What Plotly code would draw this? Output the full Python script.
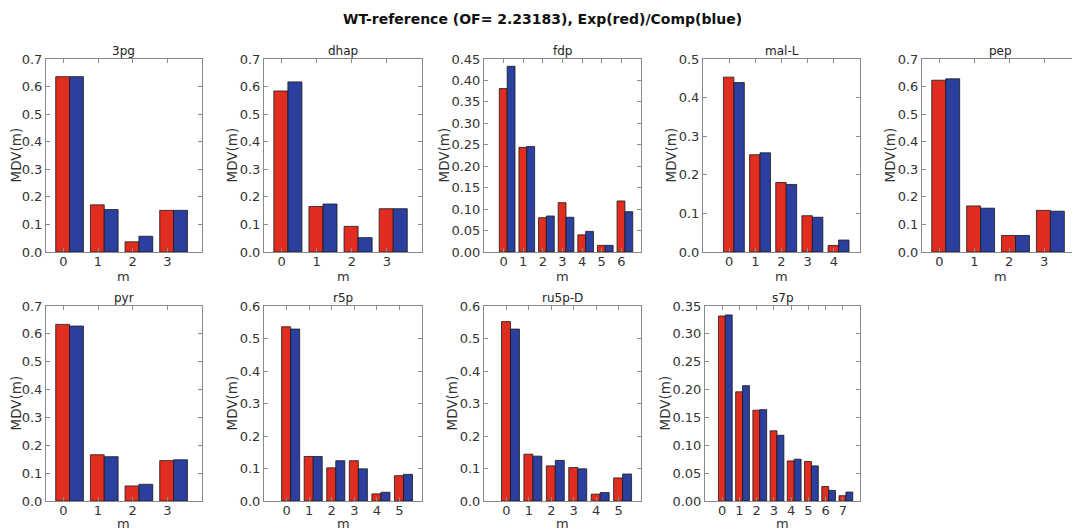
import plotly.graph_objects as go

# ---- data ----
names = ["3pg", "dhap", "fdp", "mal-L", "pep", "pyr", "r5p", "ru5p-D", "s7p"]

m_3pg = [0, 1, 2, 3]
exp_3pg = [0.636, 0.171, 0.037, 0.151]
comp_3pg = [0.636, 0.154, 0.057, 0.151]

m_dhap = [0, 1, 2, 3]
exp_dhap = [0.584, 0.165, 0.093, 0.157]
comp_dhap = [0.617, 0.174, 0.052, 0.157]

m_fdp = [0, 1, 2, 3, 4, 5, 6]
exp_fdp = [0.381, 0.244, 0.080, 0.115, 0.040, 0.0155, 0.119]
comp_fdp = [0.433, 0.246, 0.084, 0.081, 0.048, 0.0155, 0.094]

m_mal = [0, 1, 2, 3, 4]
exp_mal = [0.453, 0.252, 0.180, 0.094, 0.017]
comp_mal = [0.439, 0.257, 0.175, 0.090, 0.031]

m_pep = [0, 1, 2, 3]
exp_pep = [0.623, 0.167, 0.060, 0.151]
comp_pep = [0.628, 0.159, 0.060, 0.148]

m_pyr = [0, 1, 2, 3]
exp_pyr = [0.634, 0.166, 0.054, 0.145]
comp_pyr = [0.628, 0.159, 0.060, 0.148]

m_r5p = [0, 1, 2, 3, 4, 5]
exp_r5p = [0.536, 0.137, 0.102, 0.124, 0.022, 0.078]
comp_r5p = [0.529, 0.137, 0.124, 0.099, 0.027, 0.082]

m_ru5p = [0, 1, 2, 3, 4, 5]
exp_ru5p = [0.552, 0.144, 0.108, 0.103, 0.021, 0.071]
comp_ru5p = [0.529, 0.138, 0.125, 0.099, 0.026, 0.083]

m_s7p = [0, 1, 2, 3, 4, 5, 6, 7]
exp_s7p = [0.332, 0.196, 0.163, 0.126, 0.072, 0.071, 0.026, 0.0095]
comp_s7p = [0.334, 0.207, 0.164, 0.118, 0.075, 0.063, 0.019, 0.016]

ms = [m_3pg, m_dhap, m_fdp, m_mal, m_pep, m_pyr, m_r5p, m_ru5p, m_s7p]
exps = [exp_3pg, exp_dhap, exp_fdp, exp_mal, exp_pep, exp_pyr, exp_r5p, exp_ru5p, exp_s7p]
comps = [comp_3pg, comp_dhap, comp_fdp, comp_mal, comp_pep, comp_pyr, comp_r5p, comp_ru5p, comp_s7p]

ymax = [0.7, 0.7, 0.45, 0.5, 0.7, 0.7, 0.6, 0.6, 0.35]
ydtick = [0.1, 0.1, 0.05, 0.1, 0.1, 0.1, 0.1, 0.1, 0.05]
yfmt = [".1f", ".1f", ".2f", ".1f", ".1f", ".1f", ".1f", ".1f", ".2f"]
xranges = [[-0.5, 4], [-0.5, 4], [-1, 7], [-1, 5], [-0.5, 4],
           [-0.5, 4], [-1, 6], [-1, 6], [-1, 8]]

title_text = "WT-reference (OF= 2.23183), Exp(red)/Comp(blue)"
xlabel = "m"
ylabel = "MDV(m)"

# ---- layout geometry (pixels, in window coordinates) ----
PAD = 8  # page body margin that offsets the figure in the window
W, H = 1080 - PAD, 530 - PAD
col_px = [(46, 202), (264, 422), (484, 641), (703, 860), (922, 1079)]
row_px = [(59, 252), (306, 501)]
xlab_dy = [24, 22]
s7p_left = 705


def px(x):
    return (x - PAD) / W


def py(y):
    return 1 - (y - PAD) / H


RED = "#e12d1f"
BLUE = "#2b3f9e"
FONT = "DejaVu Sans"
AX = "#8a8a8a"
TXT = "#333333"

fig = go.Figure()
layout = dict(
    width=W, height=H, margin=dict(l=0, r=0, t=0, b=0),
    paper_bgcolor="white", plot_bgcolor="white",
    showlegend=False, barmode="overlay",
    font=dict(family=FONT, color=TXT, size=12),
)
annotations = []

for i, name in enumerate(names):
    r, c = divmod(i, 5)
    x0, x1 = col_px[c]
    if name == "s7p":
        x0 = s7p_left
    y0, y1 = row_px[r]
    k = "" if i == 0 else str(i + 1)
    xa, ya = "x" + k, "y" + k
    fig.add_trace(go.Bar(x=ms[i], y=exps[i], width=0.4, offset=-0.22,
                         marker=dict(color=RED, line=dict(color="#1a1a1a", width=0.8)),
                         xaxis=xa, yaxis=ya))
    fig.add_trace(go.Bar(x=ms[i], y=comps[i], width=0.4, offset=0.18,
                         marker=dict(color=BLUE, line=dict(color="#1a1a1a", width=0.8)),
                         xaxis=xa, yaxis=ya))
    common = dict(showline=True, linecolor=AX, linewidth=1, mirror="ticks",
                  ticks="inside", ticklen=4, tickcolor=AX, showgrid=False,
                  zeroline=False, automargin=False,
                  tickfont=dict(size=13, color=TXT, family=FONT))
    layout["xaxis" + k] = dict(common, domain=[px(x0), min(px(x1), 1.0)], anchor=ya,
                               range=xranges[i], tickvals=ms[i], ticklabelstandoff=-3)
    layout["yaxis" + k] = dict(common, domain=[py(y1), py(y0)], anchor=xa,
                               range=[0, ymax[i]], dtick=ydtick[i], tick0=0,
                               tickformat=yfmt[i])
    # subplot title
    annotations.append(dict(text=name, x=px((x0 + x1) / 2), y=py(y0 - 8),
                            xref="paper", yref="paper", xanchor="center", yanchor="middle",
                            showarrow=False, font=dict(size=12, color="#222", family=FONT)))
    # x label
    annotations.append(dict(text=xlabel, x=px((x0 + x1) / 2), y=py(y1 + xlab_dy[r]),
                            xref="paper", yref="paper", xanchor="center", yanchor="middle",
                            showarrow=False, font=dict(size=13, color=TXT, family=FONT)))
    # y label
    off = 41 if yfmt[i] == ".2f" else (31 if c == 0 else 33)
    annotations.append(dict(text=ylabel, x=px(x0 - off), y=py((y0 + y1) / 2),
                            xref="paper", yref="paper", xanchor="center", yanchor="middle",
                            textangle=-90, showarrow=False,
                            font=dict(size=13.5, color=TXT, family=FONT)))

annotations.append(dict(text="<b>" + title_text + "</b>", x=px(542), y=py(19),
                        xref="paper", yref="paper", xanchor="center", yanchor="middle",
                        showarrow=False, font=dict(size=14, color="#111", family=FONT)))
layout["annotations"] = annotations
fig.update_layout(**layout)
fig.write_html("out.html")
